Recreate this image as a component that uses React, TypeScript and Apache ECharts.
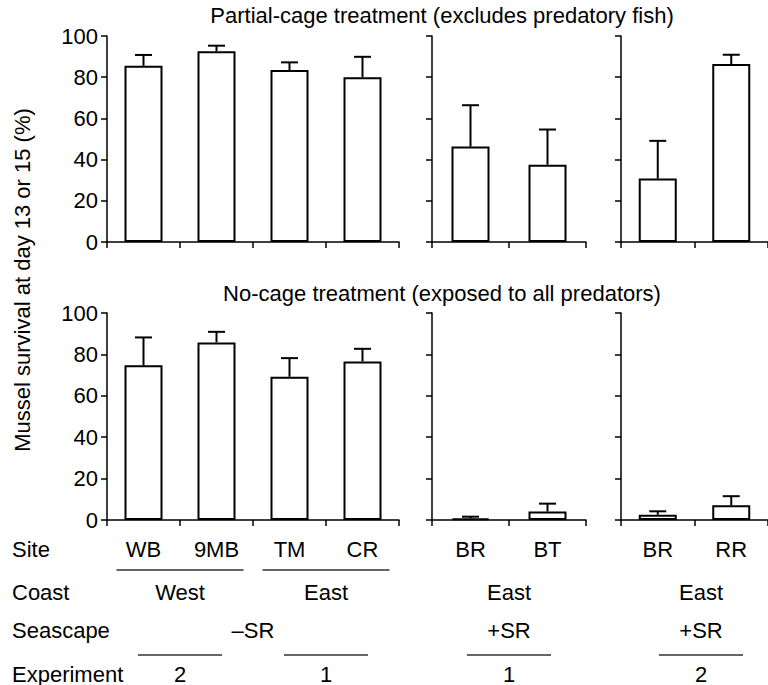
import React, { useEffect, useRef } from "react";
import * as echarts from "echarts";

// ---- Data ----
const panelSites: string[][] = [
  ["WB", "9MB", "TM", "CR"],
  ["BR", "BT"],
  ["BR", "RR"],
];
const partialCageMeans: number[][] = [
  [85.5, 92.6, 83.5, 80.0],
  [46.3, 37.5],
  [30.8, 86.4],
];
const partialCageSE: number[][] = [
  [5.3, 2.7, 3.7, 9.9],
  [20.1, 17.1],
  [18.3, 4.5],
];
const noCageMeans: number[][] = [
  [74.7, 85.8, 69.2, 76.6],
  [0.8, 4.1],
  [2.5, 7.1],
];
const noCageSE: number[][] = [
  [13.5, 5.1, 9.0, 6.1],
  [0.8, 3.8],
  [1.7, 4.4],
];
const yTickValues = [0, 20, 40, 60, 80, 100];
const rowTitles = [
  "Partial-cage treatment (excludes predatory fish)",
  "No-cage treatment (exposed to all predators)",
];
const yAxisTitle = "Mussel survival at day 13 or 15 (%)";
const rowLabels = ["Site", "Coast", "Seascape", "Experiment"];
const coastGroups = [
  { label: "West", panel: 0, from: 0, to: 1, underline: true },
  { label: "East", panel: 0, from: 2, to: 3, underline: true },
  { label: "East", panel: 1, from: 0, to: 1, underline: false },
  { label: "East", panel: 2, from: 0, to: 1, underline: false },
];
const seascapeGroups = [
  { label: "\u2013SR", panel: 0, from: 0, to: 3 },
  { label: "+SR", panel: 1, from: 0, to: 1 },
  { label: "+SR", panel: 2, from: 0, to: 1 },
];
const experimentGroups = [
  { label: "2", panel: 0, from: 0, to: 1 },
  { label: "1", panel: 0, from: 2, to: 3 },
  { label: "1", panel: 1, from: 0, to: 1 },
  { label: "2", panel: 2, from: 0, to: 1 },
];

// ---- Layout ----
const W = 768;
const H = 685;
const FONT = "'Liberation Sans', Arial, Helvetica, sans-serif";
const FS = 22;
const gridLefts = [107, 432, 621];
const gridWidths = [292, 154, 160];
const rowTops = [36, 313];
const rowHeights = [206, 207];
const rowTitleY = [15, 293];
const labelRowY = { site: 549, coast: 592, seascape: 630, experiment: 674 };
const coastLineY = 570;
const expLineY = 655;

function groupCenter(panel: number, from: number, to: number) {
  const n = panelSites[panel].length;
  return gridLefts[panel] + (gridWidths[panel] * (from + to + 1)) / (2 * n);
}

function textEl(text: string, x: number, y: number, align = "center", rotation = 0) {
  return {
    type: "text",
    x,
    y,
    rotation,
    silent: true,
    style: {
      text,
      fill: "#000",
      font: `${FS}px ${FONT}`,
      align,
      verticalAlign: "middle",
    },
  };
}

function lineEl(x1: number, x2: number, y: number) {
  return {
    type: "line",
    silent: true,
    shape: { x1, y1: y, x2, y2: y },
    style: { stroke: "#333", lineWidth: 1.5 },
  };
}

export default function App() {
  const ref = useRef<HTMLDivElement>(null);

  useEffect(() => {
    if (!ref.current) return;
    const chart = echarts.init(ref.current, null, { renderer: "svg", width: W, height: H });

    const grids: any[] = [];
    const xAxes: any[] = [];
    const yAxes: any[] = [];
    const series: any[] = [];
    const rows = [
      { means: partialCageMeans, se: partialCageSE },
      { means: noCageMeans, se: noCageSE },
    ];

    rows.forEach((row, r) => {
      panelSites.forEach((sites, p) => {
        const idx = grids.length;
        grids.push({
          left: gridLefts[p],
          top: rowTops[r],
          width: gridWidths[p],
          height: rowHeights[r],
          containLabel: false,
        });
        xAxes.push({
          type: "category",
          gridIndex: idx,
          data: sites,
          boundaryGap: true,
          axisLine: { show: true, lineStyle: { color: "#000", width: 1.5 } },
          axisTick: { show: true, length: 6, lineStyle: { color: "#000", width: 1.5 } },
          axisLabel: {
            show: r === 1,
            margin: 18,
            fontSize: FS,
            fontFamily: FONT,
            color: "#000",
          },
          splitLine: { show: false },
        });
        yAxes.push({
          type: "value",
          gridIndex: idx,
          min: yTickValues[0],
          max: yTickValues[yTickValues.length - 1],
          interval: yTickValues[1] - yTickValues[0],
          axisLine: { show: true, lineStyle: { color: "#000", width: 1.5 } },
          axisTick: { show: true, length: 6, lineStyle: { color: "#000", width: 1.5 } },
          axisLabel: {
            show: p === 0,
            margin: 9,
            fontSize: FS,
            fontFamily: FONT,
            color: "#000",
          },
          splitLine: { show: false },
        });
        series.push({
          type: "bar",
          xAxisIndex: idx,
          yAxisIndex: idx,
          data: row.means[p],
          barWidth: 38,
          itemStyle: { color: "#fff", borderColor: "#000", borderWidth: 2 },
          z: 2,
        });
        series.push({
          type: "custom",
          xAxisIndex: idx,
          yAxisIndex: idx,
          z: 3,
          data: row.means[p].map((m, i) => [i, m, row.se[p][i]]),
          encode: { x: 0, y: 1 },
          renderItem: (params: any, api: any) => {
            const x = api.value(0);
            const m = api.value(1);
            const s = api.value(2);
            const base = api.coord([x, m]);
            const top = api.coord([x, m + s]);
            const half = 8.5;
            return {
              type: "group",
              children: [
                {
                  type: "line",
                  shape: { x1: base[0], y1: base[1], x2: base[0], y2: top[1] },
                  style: { stroke: "#000", lineWidth: 2 },
                },
                {
                  type: "line",
                  shape: { x1: base[0] - half, y1: top[1], x2: base[0] + half, y2: top[1] },
                  style: { stroke: "#000", lineWidth: 2 },
                },
              ],
            };
          },
        });
      });
    });

    const graphics: any[] = [];
    const titleX = 442;
    rowTitles.forEach((t, r) => graphics.push(textEl(t, titleX, rowTitleY[r])));
    graphics.push(textEl(yAxisTitle, 22, 280, "center", Math.PI / 2));

    const rowYs = [labelRowY.site, labelRowY.coast, labelRowY.seascape, labelRowY.experiment];
    rowLabels.forEach((l, i) => graphics.push(textEl(l, 12, rowYs[i], "left")));

    coastGroups.forEach((g) => {
      const cx = groupCenter(g.panel, g.from, g.to);
      graphics.push(textEl(g.label, cx, labelRowY.coast));
      if (g.underline) graphics.push(lineEl(cx - 63.5, cx + 63.5, coastLineY));
    });
    seascapeGroups.forEach((g) => {
      const cx = groupCenter(g.panel, g.from, g.to);
      graphics.push(textEl(g.label, cx, labelRowY.seascape));
    });
    experimentGroups.forEach((g) => {
      const cx = groupCenter(g.panel, g.from, g.to);
      graphics.push(textEl(g.label, cx, labelRowY.experiment));
      graphics.push(lineEl(cx - 42, cx + 42, expLineY));
    });

    chart.setOption({
      animation: false,
      backgroundColor: "#fff",
      grid: grids,
      xAxis: xAxes,
      yAxis: yAxes,
      series,
      graphic: graphics,
    });

    return () => chart.dispose();
  }, []);

  return (
    <div
      ref={ref}
      style={{ position: "fixed", left: 0, top: 0, width: W, height: H, background: "#fff" }}
    />
  );
}
